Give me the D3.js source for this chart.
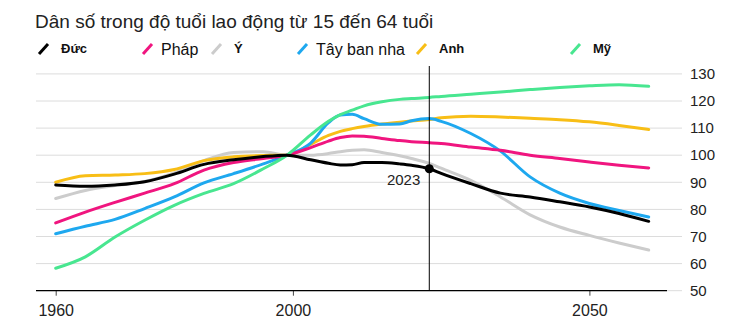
<!DOCTYPE html>
<html>
<head>
<meta charset="utf-8">
<script src="https://cdn.jsdelivr.net/npm/d3@7/dist/d3.min.js"></script>
<style>
  html, body { margin: 0; padding: 0; background: #fff; }
  svg { display: block; font-family: "Liberation Sans", Arial, Helvetica, sans-serif; }
</style>
</head>
<body>
<svg id="chart" width="744" height="336"></svg>
<script>
// Working-age population (15–64), index
const years = [1960, 1965, 1970, 1975, 1980, 1985, 1990, 1995, 1999, 2003, 2006, 2008, 2010, 2012, 2015, 2018, 2020, 2023, 2025, 2030, 2035, 2040, 2045, 2050, 2055, 2060];

const duc       = [89, 88.5, 89, 90.2, 93, 96.6, 98.3, 99.5, 100, 98.3, 97, 96.4, 96.5, 97.3, 97.3, 96.8, 96.3, 95, 93.3, 89.5, 86, 84.6, 82.8, 80.9, 78.5, 75.6];
const phap      = [75, 79, 82.6, 86, 89.5, 94.5, 97.3, 98.8, 100, 102.8, 105.2, 106.5, 107.1, 107, 106.2, 105.4, 105, 104.6, 104.3, 103, 101.8, 100, 98.8, 97.5, 96.3, 95.3];
const y_        = [84, 87, 88.8, 90.3, 93.5, 98, 101, 101.3, 100, 100, 100.6, 101.3, 101.8, 102, 101, 99.8, 98.8, 97, 95.2, 90.7, 84.6, 78, 73.5, 70.4, 67.6, 65];
const tayBanNha = [71, 73.8, 76.3, 80.3, 84.6, 89.8, 93.2, 96.8, 100, 104.5, 112, 114.8, 115.1, 113.5, 111.4, 111.5, 112.7, 113.5, 112.5, 108, 101.5, 92, 86, 82.2, 79.6, 77.2];
const anh       = [90, 92.4, 92.7, 93.2, 94.7, 98, 99.4, 99.9, 100, 104, 107.3, 108.8, 109.8, 110.6, 111.5, 112.2, 112.6, 113.2, 113.8, 114.4, 114.1, 113.6, 113.1, 112.3, 111, 109.5];
const my        = [58.3, 62.5, 69.8, 76, 81.5, 85.9, 89.5, 95, 100, 107.5, 112.5, 115, 116.6, 118.2, 119.7, 120.6, 120.9, 121.3, 121.7, 122.5, 123.3, 124.2, 125, 125.6, 126, 125.4];

const seriesNames  = ["Đức", "Pháp", "Ý", "Tây ban nha", "Anh", "Mỹ"];
const seriesValues = [duc, phap, y_, tayBanNha, anh, my];
const seriesColors = ["#000000", "#f0157f", "#cccccc", "#1ea8ef", "#f8be16", "#48e690"];
const drawOrder    = [2, 4, 3, 1, 5, 0]; // Ý, Anh, Tây ban nha, Pháp, Mỹ, Đức

const xTicks = [1960, 2000, 2050];
const yTicks = [50, 60, 70, 80, 90, 100, 110, 120, 130];
const markerYear = 2023;

const titleText = "Dân số trong độ tuổi lao động từ 15 đến 64 tuổi";

const svg = d3.select("#chart");

const x = d3.scaleLinear().domain([1960, 2060]).range([55.7, 648.7]);
const y = d3.scaleLinear().domain([50, 130]).range([290.7, 73.9]);

// title
svg.append("text")
  .attr("x", 35).attr("y", 28)
  .attr("font-size", 19).attr("fill", "#222")
  .text(titleText);

// legend
const legendX = [37, 141, 210, 296, 415, 569];
const legendBold = [true, false, true, false, true, true];
const legend = svg.append("g");
seriesNames.forEach((name, i) => {
  const g = legend.append("g").attr("transform", `translate(${legendX[i]},0)`);
  g.append("line")
    .attr("x1", 2).attr("y1", 54).attr("x2", 11).attr("y2", 44)
    .attr("stroke", seriesColors[i]).attr("stroke-width", 3).attr("stroke-linecap", "butt");
  g.append("text")
    .attr("x", legendBold[i] ? 24 : 20).attr("y", legendBold[i] ? 53 : 55)
    .attr("font-size", legendBold[i] ? 13 : 16)
    .attr("font-weight", legendBold[i] ? "bold" : "normal")
    .attr("fill", "#111")
    .text(name);
});

// grid
const grid = svg.append("g");
grid.selectAll("line").data(yTicks).join("line")
  .attr("x1", 36).attr("x2", 682)
  .attr("y1", d => y(d)).attr("y2", d => y(d))
  .attr("stroke", "#dcdcdc").attr("stroke-width", 1);

// y axis labels on the right
svg.append("g").selectAll("text").data(yTicks).join("text")
  .attr("x", 690).attr("y", d => y(d))
  .attr("dy", "0.35em")
  .attr("font-size", 15).attr("fill", "#222")
  .text(d => d);

// baseline + x axis
const xAxis = d3.axisBottom(x).tickValues(xTicks).tickFormat(d3.format("d")).tickSize(5).tickSizeOuter(0);
const xg = svg.append("g").attr("transform", `translate(0,${y(50)})`).call(xAxis);
xg.select(".domain").remove();
xg.selectAll(".tick line").attr("stroke", "#444");
xg.selectAll(".tick text")
  .attr("font-family", "Liberation Sans, Arial, sans-serif")
  .attr("font-size", 16).attr("fill", "#222").attr("y", 14).attr("dy", "0.71em");
svg.append("line")
  .attr("x1", 36).attr("x2", 667).attr("y1", y(50)).attr("y2", y(50))
  .attr("stroke", "#000").attr("stroke-width", 1.2);

// lines
const line = d3.line()
  .x((d, i) => x(years[i]))
  .y(d => y(d))
  .curve(d3.curveMonotoneX);

svg.append("g").selectAll("path").data(drawOrder).join("path")
  .attr("d", i => line(seriesValues[i]))
  .attr("fill", "none")
  .attr("stroke", i => seriesColors[i])
  .attr("stroke-width", 3)
  .attr("stroke-linejoin", "round")
  .attr("stroke-linecap", "round");

// 2023 marker
const mi = years.indexOf(markerYear);
svg.append("line")
  .attr("x1", x(markerYear)).attr("x2", x(markerYear))
  .attr("y1", 66).attr("y2", y(50))
  .attr("stroke", "#000").attr("stroke-width", 1);
svg.append("circle")
  .attr("cx", x(markerYear)).attr("cy", y(duc[mi]))
  .attr("r", 4.5).attr("fill", "#000");
svg.append("text")
  .attr("x", x(markerYear) - 9).attr("y", y(duc[mi]) + 16)
  .attr("text-anchor", "end")
  .attr("font-size", 15).attr("fill", "#222")
  .text(markerYear);
</script>
</body>
</html>
